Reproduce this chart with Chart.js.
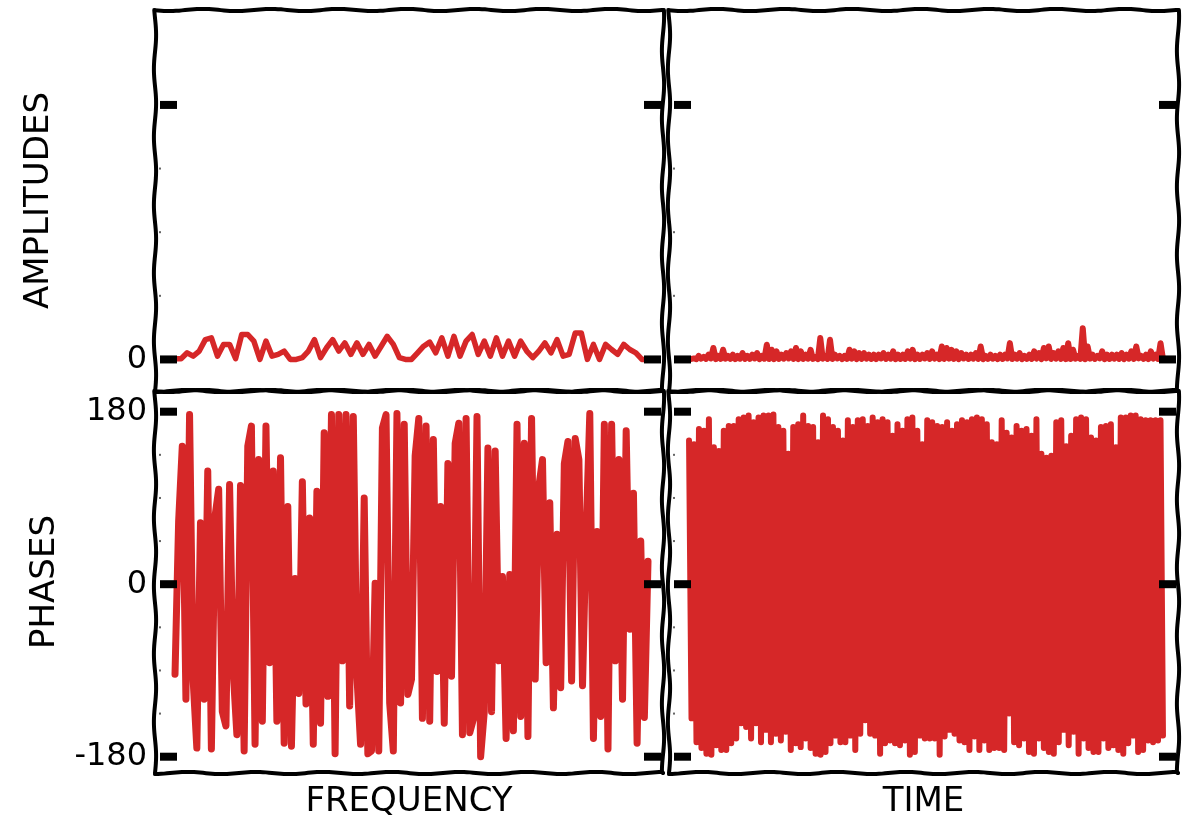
<!DOCTYPE html>
<html>
<head>
<meta charset="utf-8">
<script src="https://cdn.jsdelivr.net/npm/chart.js@4.4.1/dist/chart.umd.min.js"></script>
<style>
html,body{margin:0;padding:0;background:#fff;}
#wrap{position:relative;width:1183px;height:819px;overflow:hidden;background:#fff;}
canvas{position:absolute;left:0;top:0;}
</style>
</head>
<body>
<div id="wrap">
<canvas id="cTL" width="1183" height="819"></canvas>
<canvas id="cTR" width="1183" height="819"></canvas>
<canvas id="cBL" width="1183" height="819"></canvas>
<canvas id="cBR" width="1183" height="819"></canvas>
</div>
<script>
// ---------- data ----------
const axisTitles = {amp: 'AMPLITUDES', phase: 'PHASES', freq: 'FREQUENCY', time: 'TIME'};

const ampTicks = [0, 1];
const ampTickLabels = ['0', ''];
const ampMinorTicks = [0.25, 0.5, 0.75];
const phaseTicks = [180, 0, -180];
const phaseTickLabels = ['180', '0', '-180'];
const phaseMinorTicks = [135, 90, 45, -45, -90, -135];

const freqAmplitudes = [0.003,0.003,0.026,0.013,0.033,0.078,0.085,0.013,0.059,0.059,0.003,0.098,0.098,0.072,0.0,0.072,0.013,0.020,0.033,0.0,0.0,0.007,0.033,0.078,0.007,0.046,0.078,0.033,0.065,0.020,0.065,0.020,0.059,0.013,0.052,0.091,0.059,0.007,0.0,0.0,0.026,0.052,0.068,0.026,0.085,0.013,0.091,0.013,0.072,0.098,0.020,0.072,0.013,0.085,0.013,0.072,0.013,0.072,0.033,0.007,0.033,0.065,0.026,0.078,0.013,0.020,0.104,0.104,0.0,0.059,0.0,0.059,0.039,0.020,0.059,0.039,0.026,0.0,0.0];

const freqPhases = [-94,66,144,-120,177,-101,-171,64,-120,118,-172,71,99,-133,-148,104,-91,-157,103,-174,144,165,-167,130,-143,165,-82,118,-143,132,-166,81,-169,6,-114,107,-125,69,-167,97,-145,158,-117,177,-177,177,-80,177,-127,175,-96,-167,90,-177,-174,1,-174,163,177,-124,-174,178,-124,167,-115,-99,134,173,-140,165,-143,151,-91,81,-145,126,-96,147,168,-157,173,-155,-141,175,-180,-133,142,-133,139,-80,8,-161,10,-153,167,-138,147,-159,173,-99,102,130,-82,85,-129,52,-108,126,149,-101,152,130,-106,55,178,-161,55,-138,167,-172,167,-80,130,-120,160,-47,95,-166,45,-139,24];

const timeAmpPeaks = [0.0,0.004,0.014,0.010,0.019,0.045,0.014,0.038,0.014,0.019,0.014,0.025,0.014,0.019,0.025,0.014,0.058,0.038,0.032,0.019,0.025,0.032,0.045,0.032,0.019,0.038,0.010,0.084,0.010,0.077,0.019,0.014,0.014,0.038,0.032,0.025,0.025,0.019,0.019,0.019,0.025,0.019,0.032,0.019,0.019,0.032,0.038,0.019,0.019,0.025,0.032,0.019,0.051,0.045,0.038,0.032,0.025,0.019,0.019,0.025,0.051,0.014,0.019,0.014,0.019,0.019,0.064,0.019,0.025,0.014,0.019,0.032,0.025,0.045,0.051,0.025,0.032,0.045,0.064,0.038,0.014,0.123,0.051,0.019,0.014,0.032,0.019,0.019,0.019,0.025,0.019,0.032,0.051,0.014,0.019,0.032,0.019,0.064];
const timeAmpTroughs = [0.002,0.001,0.003,0.002,0.004,0.001,0.002,0.003,0.002,0.001,0.003,0.002,0.002,0.004,0.001,0.003,0.002,0.001,0.002,0.003,0.004,0.002,0.001,0.002,0.003,0.002,0.001,0.003,0.002,0.002,0.004,0.001,0.002,0.003,0.001,0.002,0.003,0.002,0.001,0.004,0.002,0.003,0.001,0.002,0.002,0.003,0.001,0.002,0.004,0.002,0.003,0.001,0.002,0.003,0.002,0.001,0.004,0.002,0.003,0.002,0.001,0.002,0.003,0.001,0.002,0.004,0.002,0.003,0.001,0.002,0.002,0.003,0.001,0.004,0.002,0.003,0.002,0.001,0.002,0.003,0.002,0.001,0.003,0.002,0.004,0.001,0.002,0.003,0.002,0.001,0.003,0.002,0.004,0.002,0.001,0.003,0.002,0.002];

const timePhasePeaks = [150,146,162,160,172,143,139,160,165,165,172,174,176,169,174,176,176,177,164,160,136,164,167,176,165,164,148,176,172,164,160,150,171,164,171,172,165,174,169,172,169,155,167,160,172,174,160,146,171,169,165,164,169,160,167,171,169,172,174,172,167,148,146,171,158,153,165,160,162,155,172,136,132,134,169,171,144,155,172,174,172,153,150,164,165,167,143,174,174,176,176,172,171,171,171,171];
const timePhaseTroughs = [-140,-165,-171,-177,-178,-168,-173,-173,-166,-161,-145,-149,-161,-145,-165,-152,-165,-156,-163,-154,-173,-166,-170,-161,-171,-177,-178,-175,-166,-158,-165,-165,-158,-173,-156,-142,-156,-158,-177,-166,-163,-166,-168,-163,-178,-175,-158,-161,-161,-161,-178,-159,-152,-156,-163,-165,-173,-159,-173,-163,-173,-171,-171,-173,-135,-165,-168,-161,-175,-177,-161,-171,-175,-177,-165,-152,-168,-154,-177,-161,-171,-175,-175,-161,-171,-168,-173,-177,-166,-158,-175,-173,-163,-165,-163,-158];

// ---------- build series ----------
function interleave(a, b) {
  const out = [];
  for (let i = 0; i < Math.max(a.length, b.length); i++) {
    if (i < a.length) out.push(a[i]);
    if (i < b.length) out.push(b[i]);
  }
  return out;
}
const timeAmplitudes = interleave(timeAmpPeaks, timeAmpTroughs);
const timePhases = interleave(timePhasePeaks, timePhaseTroughs);

const FONT = '"DejaVu Sans", sans-serif';
const RED = '#d62728';

function wavy(ctx, x0, y0, x1, y1, seed) {
  const len = Math.hypot(x1 - x0, y1 - y0);
  const ux = (x1 - x0) / len, uy = (y1 - y0) / len;
  const nx = -uy, ny = ux;
  ctx.beginPath();
  for (let t = 0; t <= len; t += 3) {
    const off = 1.1 * Math.sin(2 * Math.PI * t / 68 + seed);
    const x = x0 + ux * t + nx * off, y = y0 + uy * t + ny * off;
    if (t === 0) ctx.moveTo(x, y); else ctx.lineTo(x, y);
  }
  ctx.lineTo(x1, y1);
  ctx.stroke();
}

const xkcdFrame = {
  id: 'xkcdFrame',
  afterDatasetsDraw(chart, args, opts) {
    const {ctx, chartArea: a} = chart;
    const ys = chart.scales.y;
    ctx.save();
    ctx.fillStyle = '#000';
    (opts.major || []).forEach(v => {
      const py = ys.getPixelForValue(v);
      ctx.fillRect(a.left + 5, py - 4, 17, 8);
      ctx.fillRect(a.right - 19, py - 4, 17, 8);
    });
    ctx.fillStyle = '#666';
    (opts.minor || []).forEach(v => {
      const py = ys.getPixelForValue(v);
      ctx.fillRect(a.left + 4, py - 1, 2, 2);
    });
    ctx.strokeStyle = '#000';
    ctx.lineWidth = 4;
    ctx.lineCap = 'round';
    ctx.lineJoin = 'round';
    wavy(ctx, a.left, a.top, a.right, a.top, 0.3);
    wavy(ctx, a.left, a.bottom, a.right, a.bottom, 1.7);
    wavy(ctx, a.left, a.top, a.left, a.bottom, 2.4);
    wavy(ctx, a.right, a.top, a.right, a.bottom, 4.1);
    ctx.restore();
  }
};

function build(id, values, cfg) {
  const n = values.length;
  const pts = values.map((v, i) => ({x: i, y: v}));
  return new Chart(document.getElementById(id), {
    type: 'line',
    data: {datasets: [{data: pts, borderColor: RED, borderWidth: cfg.lw, pointRadius: 0, tension: 0,
      borderJoinStyle: 'round', borderCapStyle: 'round', fill: false}]},
    options: {
      responsive: false, animation: false, devicePixelRatio: 1,
      layout: {padding: cfg.pad},
      plugins: {legend: {display: false}, tooltip: {enabled: false},
        xkcdFrame: {major: cfg.major, minor: cfg.minor}},
      scales: {
        x: {
          type: 'linear', min: -0.0423 * (n - 1), max: 1.0317 * (n - 1),
          display: !!cfg.xTitle,
          border: {display: false}, grid: {display: false, drawTicks: false},
          ticks: {display: false},
          title: {display: !!cfg.xTitle, text: cfg.xTitle || '', color: '#000',
            font: {family: FONT, size: 34, lineHeight: 1}, padding: {top: 0, bottom: 0}},
          afterFit: s => { s.height = cfg.xHeight || 0; s.paddingLeft = 0; s.paddingRight = 0; }
        },
        y: {
          type: 'linear', min: cfg.yMin, max: cfg.yMax,
          border: {display: false}, grid: {display: false, drawTicks: false},
          afterBuildTicks: s => { s.ticks = cfg.major.map(v => ({value: v})); },
          ticks: {display: cfg.showYLabels, padding: 8, color: '#000', autoSkip: false,
            font: {family: FONT, size: 32},
            callback: (v, i) => cfg.labels[i]},
          title: {display: !!cfg.yTitle, text: cfg.yTitle || '', color: '#000',
            font: {family: FONT, size: 34, lineHeight: 1}, padding: {top: cfg.yTitlePad || 0, bottom: 0}},
          afterFit: s => { s.width = cfg.yWidth; s.paddingTop = 0; s.paddingBottom = 0; }
        }
      }
    },
    plugins: [xkcdFrame]
  });
}

const ampMin = -0.124, ampMax = 1.373;
const phMin = -197, phMax = 201.6;

build('cTL', freqAmplitudes, {
  pad: {left: 0, top: 10, right: 520, bottom: 428}, yWidth: 155, lw: 5.5,
  yMin: ampMin, yMax: ampMax, major: ampTicks, minor: ampMinorTicks, labels: ampTickLabels,
  showYLabels: true, yTitle: axisTitles.amp, yTitlePad: 22
});
build('cTR', timeAmplitudes, {
  pad: {left: 0, top: 10, right: 5, bottom: 428}, yWidth: 669, lw: 6,
  yMin: ampMin, yMax: ampMax, major: ampTicks, minor: ampMinorTicks, labels: ampTickLabels,
  showYLabels: false
});
build('cBL', freqPhases, {
  pad: {left: 0, top: 391, right: 520, bottom: 0}, yWidth: 155, xHeight: 46, lw: 7,
  yMin: phMin, yMax: phMax, major: phaseTicks, minor: phaseMinorTicks, labels: phaseTickLabels,
  showYLabels: true, yTitle: axisTitles.phase, yTitlePad: 28, xTitle: axisTitles.freq
});
build('cBR', timePhases, {
  pad: {left: 0, top: 391, right: 5, bottom: 0}, yWidth: 669, xHeight: 46, lw: 6,
  yMin: phMin, yMax: phMax, major: phaseTicks, minor: phaseMinorTicks, labels: phaseTickLabels,
  showYLabels: false, xTitle: axisTitles.time
});
</script>
</body>
</html>
